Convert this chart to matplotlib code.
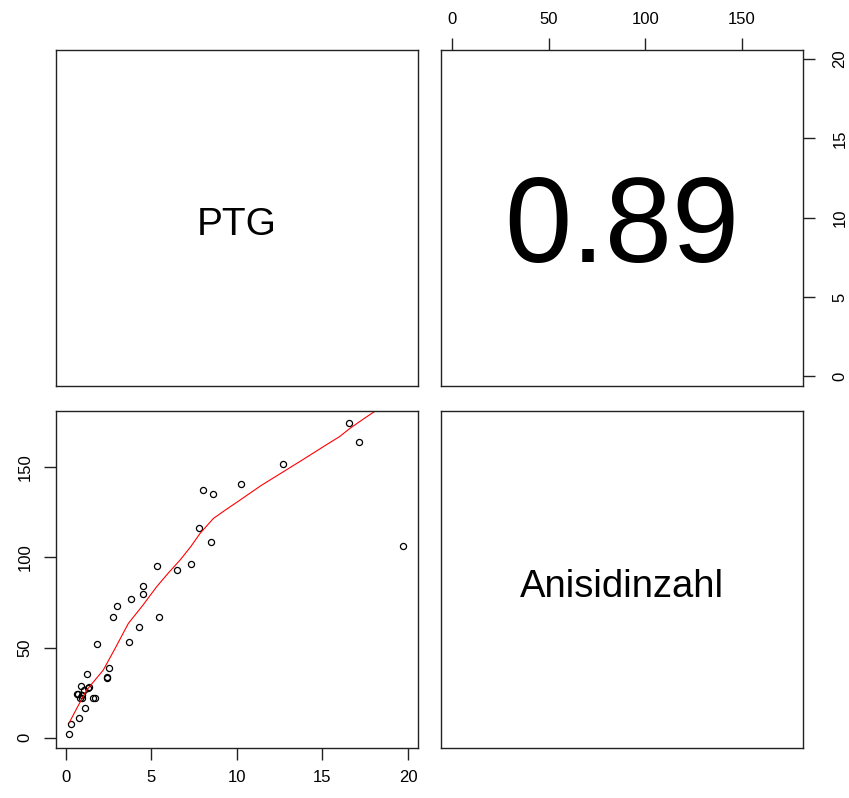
import matplotlib
matplotlib.use('Agg')
import matplotlib.pyplot as plt

plt.rcParams['font.family'] = ['Liberation Sans', 'DejaVu Sans']

# PTG (x) vs Anisidinzahl (y)
ptg = [16.57, 17.15, 12.71, 10.23, 8.01, 8.58, 7.78, 8.50, 19.73, 5.30,
       7.33, 6.49, 4.52, 4.48, 3.78, 2.98, 2.75, 5.44, 4.25, 3.66,
       1.81, 1.23, 2.53, 2.38, 2.40, 0.86, 1.36, 1.05, 0.66, 0.92,
       0.84, 1.56, 1.70, 1.13, 0.78, 0.27, 0.18, 0.72, 1.31, 0.92]
anis = [174.3, 164.1, 151.8, 140.7, 137.3, 135.1, 116.3, 108.3, 106.3, 95.0,
        96.3, 92.8, 84.1, 79.5, 77.1, 73.0, 67.1, 67.1, 61.6, 52.9,
        51.8, 35.1, 38.8, 33.8, 32.9, 28.7, 27.9, 26.7, 24.2, 23.7,
        22.2, 22.2, 22.2, 16.3, 10.7, 7.4, 1.8, 24.3, 27.4, 21.8]

# smoother (red line)
smooth_x = [0.19, 0.7, 1.21, 1.7, 2.18, 2.9, 3.65, 4.5, 5.30, 6.0, 6.67, 7.3,
            7.84, 8.62, 9.4, 10.18, 11.4, 12.71, 13.9, 15.05, 16.0, 16.6, 17.4, 18.17, 19.73]
smooth_y = [8.3, 17.5, 26.4, 32.0, 37.5, 50.0, 63.4, 73.5, 83.7, 91.5, 98.5, 106.0,
            113.3, 121.6, 126.8, 131.8, 139.8, 147.5, 154.5, 161.4, 167.0, 171.5, 176.8, 181.7, 192.0]

corr_label = '0.89'
names = ['PTG', 'Anisidinzahl']

x_ticks = [0, 5, 10, 15, 20]
y_ticks = [0, 50, 100, 150]
xlim = (-0.6, 20.57)
ylim = (-5.7, 181.2)

W, H = 849, 798
fig = plt.figure(figsize=(W / 100, H / 100), dpi=100)

def box(l, t, r, b):
    return fig.add_axes([l / W, 1 - b / H, (r - l) / W, (b - t) / H])

ax_tl = box(55.7, 50, 417.7, 386)
ax_tr = box(440.7, 50, 802.5, 386)
ax_bl = box(55.7, 411, 417.7, 748)
ax_br = box(440.7, 411, 802.5, 748)

for ax in (ax_tl, ax_tr, ax_bl, ax_br):
    for s in ax.spines.values():
        s.set_linewidth(1.0)
        s.set_color('#222222')
    ax.tick_params(direction='out', length=8.6, width=1.0, labelsize=12,
                   color='#222222')

# diagonal labels
ax_tl.set_xticks([]); ax_tl.set_yticks([])
ax_tl.text(0.5, 0.449, names[0], ha='center', va='baseline', fontsize=28,
           transform=ax_tl.transAxes)
ax_br.set_xticks([]); ax_br.set_yticks([])
ax_br.text(0.5, 0.449, names[1], ha='center', va='baseline', fontsize=27.5,
           transform=ax_br.transAxes)

# upper panel: correlation
ax_tr.set_xlim(ylim)
ax_tr.set_ylim(xlim)
ax_tr.set_xticks(y_ticks)
ax_tr.set_yticks(x_ticks)
ax_tr.xaxis.tick_top()
ax_tr.yaxis.tick_right()
ax_tr.tick_params(axis='x', pad=8)
ax_tr.tick_params(axis='y', pad=13)
for lab in ax_tr.get_yticklabels():
    lab.set_rotation(90)
    lab.set_va('center')
ax_tr.text(0.5, 0.370, corr_label, ha='center', va='baseline', fontsize=87,
           transform=ax_tr.transAxes)

# lower panel: scatter + smoother
ax_bl.plot(ptg, anis, 'o', ms=4.4, mfc='none', mec='black', mew=0.9)
ax_bl.plot(smooth_x, smooth_y, color='red', lw=0.8)
ax_bl.set_xlim(xlim)
ax_bl.set_ylim(ylim)
ax_bl.set_xticks(x_ticks)
ax_bl.set_yticks(y_ticks)
ax_bl.tick_params(axis='x', pad=7)
ax_bl.tick_params(axis='y', pad=8)
for lab in ax_bl.get_yticklabels():
    lab.set_rotation(90)
    lab.set_va('center')

fig.savefig('out.png', dpi=100)
